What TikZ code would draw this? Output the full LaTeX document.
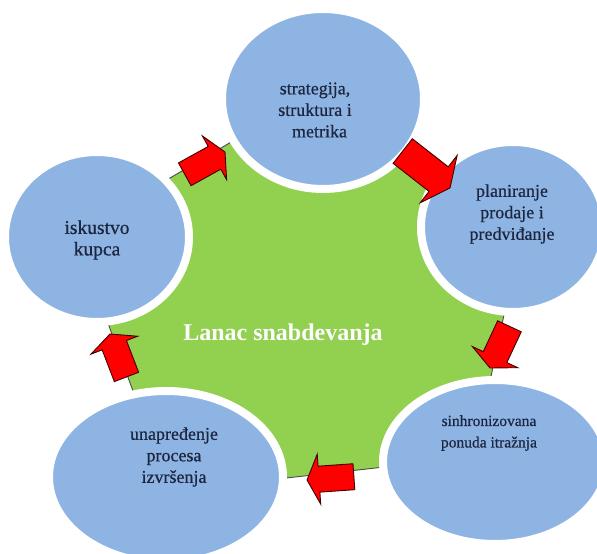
\documentclass[tikz,border=0pt]{standalone}
\usepackage{fontspec}
\setmainfont{Liberation Serif}
\newfontfamily\petalfont[FakeBold=0.6]{Liberation Serif}
\usetikzlibrary{shapes.geometric}
\definecolor{hubgreen}{RGB}{146,208,80}
\definecolor{petal}{RGB}{142,180,227}
\definecolor{labelink}{RGB}{28,38,64}
% block arrow with its tip at (#1,#2), pointing at angle #3, total length #4, scaled by #5
\newcommand\cyclearrow[5]{%
  \draw[flowarrow, shift={(#1,#2)}, rotate=#3, scale=#5]
    (0,0) -- (-12,25) -- (-12,13) -- (-#4,13) -- (-#4,-13) -- (-12,-13) -- (-12,-25) -- cycle;}
\begin{document}
\begin{tikzpicture}[x=1pt,y=1pt,
  hub/.style={fill=hubgreen, draw=black!70, line width=0.9pt, line join=miter},
  petalnode/.style={ellipse, fill=petal, draw=white, line width=8pt, inner sep=0pt},
  flowarrow/.style={fill=red, draw=black!75!red, line width=0.9pt, line join=miter},
  label/.style={text=labelink, font=\petalfont\fontsize{18}{21.5}\selectfont, align=center, inner sep=0pt},
]
\useasboundingbox (0,0) rectangle (597,554);
\clip (0,0) rectangle (597,554);

% central pentagon
\draw[hub] (316,462) -- (520,315) -- (474,97) -- (170,63) -- (75,320) -- cycle;

% outer ellipses with white rims
\node[petalnode, minimum width=202pt, minimum height=180pt] (top)   at (323,455) {};
\node[petalnode, minimum width=184pt, minimum height=170pt] (right) at (513,327) {};
\node[petalnode, minimum width=224pt, minimum height=164pt] (br)    at (495,92)  {};
\node[petalnode, minimum width=234pt, minimum height=172pt] (bl)    at (166,77)  {};
\node[petalnode, minimum width=184pt, minimum height=170pt] (left)  at (97,317)  {};

% flow arrows along the pentagon edges
\cyclearrow{225}{402}{29}{46}{1}
\cyclearrow{450}{366}{-38}{50}{1.2}
\cyclearrow{490}{186}{-115}{46}{1}
\cyclearrow{307}{74}{184}{47}{1}
\cyclearrow{110}{220}{111}{46}{1}

% texts
\node[label] (ttop) at (315,444) {strategija,\\ struktura i\\ \hspace*{9pt}metrika};
\node[label] (tright) at (512,340) {planiranje\\ prodaje i\\ predviđanje};
\node[label, font=\petalfont\fontsize{15.5}{21.5}\selectfont] (tbr) at (489,121) {sinhronizovana\\ ponuda itražnja};
\node[label] (tbl) at (174,97) {unapređenje\\ procesa\\ izvršenja};
\node[label, font=\petalfont\fontsize{19.5}{21.5}\selectfont] (tleft) at (97,314) {iskustvo\\ kupca};
\node[text=white, font=\fontsize{24}{28}\bfseries, inner sep=0pt] (hubtext) at (283,219) {Lanac snabdevanja};
\end{tikzpicture}
\end{document}
